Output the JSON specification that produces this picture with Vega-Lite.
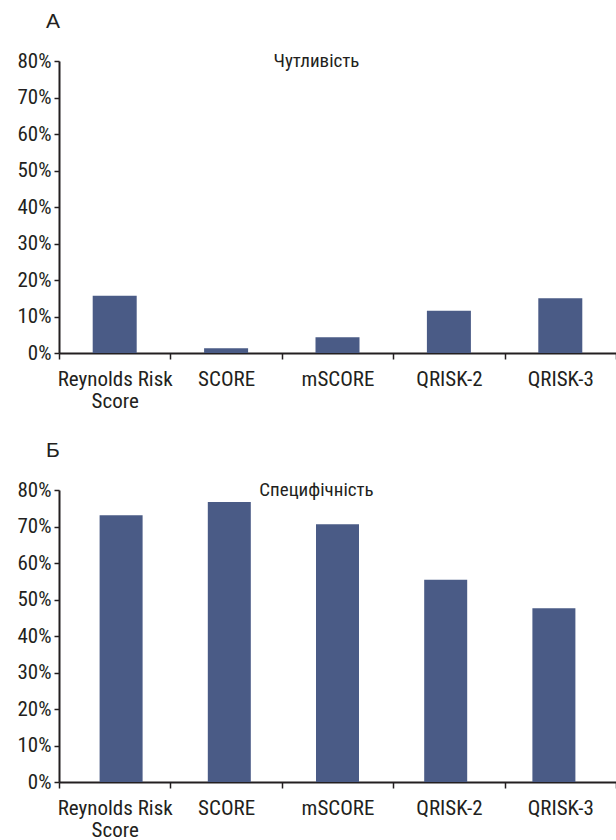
{
  "$schema": "https://vega.github.io/schema/vega-lite/v6.json",
  "background": "white",
  "padding": {"left": 16, "right": 0, "top": 11, "bottom": 0},
  "spacing": 29,
  "config": {
    "view": {"stroke": null},
    "font": "Liberation Sans Narrow, Roboto Condensed, DejaVu Sans Condensed, sans-serif",
    "axis": {
      "domainColor": "#231f20",
      "domainWidth": 2,
      "tickColor": "#231f20",
      "tickWidth": 1.5,
      "labelColor": "#231f20",
      "labelFont": "Liberation Sans Narrow, Roboto Condensed, DejaVu Sans Condensed, sans-serif",
      "labelFontSize": 21,
      "labelOverlap": false,
      "grid": false,
      "title": null
    },
    "title": {
      "font": "Liberation Sans, Arial, sans-serif",
      "fontSize": 21,
      "fontWeight": "normal",
      "color": "#231f20",
      "anchor": "start",
      "frame": "group"
    }
  },
  "datasets": {
    "sens": [
      {"model": "Reynolds Risk Score", "value": 0.157},
      {"model": "SCORE", "value": 0.013},
      {"model": "mSCORE", "value": 0.043},
      {"model": "QRISK-2", "value": 0.116},
      {"model": "QRISK-3", "value": 0.150}
    ],
    "spec": [
      {"model": "Reynolds Risk Score", "value": 0.731},
      {"model": "SCORE", "value": 0.767},
      {"model": "mSCORE", "value": 0.706},
      {"model": "QRISK-2", "value": 0.554},
      {"model": "QRISK-3", "value": 0.476}
    ]
  },
  "vconcat": [
    {
      "width": 557,
      "height": 292,
      "title": {"text": "А", "dx": -13, "offset": 18},
      "data": {"name": "sens"},
      "layer": [
        {
          "mark": {"type": "bar", "size": 44, "color": "#4a5b86"},
          "encoding": {
            "x": {
              "field": "model", "type": "nominal", "sort": null,
              "scale": {"paddingInner": 0, "paddingOuter": 0},
              "axis": {
                "labelAngle": 0, "tickBand": "extent", "tickSize": 6,
                "labelPadding": 9, "labelBaseline": "top", "labelLineHeight": 22,
                "labelOverlap": false,
                "labelExpr": "datum.value == 'Reynolds Risk Score' ? ['Reynolds Risk', 'Score'] : datum.value"
              }
            },
            "y": {
              "field": "value", "type": "quantitative",
              "scale": {"domain": [0, 0.8], "nice": false},
              "axis": {"values": [0, 0.1, 0.2, 0.3, 0.4, 0.5, 0.6, 0.7, 0.8], "labelOverlap": false, "format": ".0%", "tickSize": 5, "labelPadding": 3}
            }
          }
        },
        {
          "data": {"values": [{"t": "Чутливість"}]},
          "mark": {"type": "text", "fontSize": 19, "baseline": "middle", "align": "center", "dx": -21, "color": "#231f20"},
          "encoding": {
            "x": {"datum": "mSCORE", "type": "nominal"},
            "y": {
              "datum": 0.8, "type": "quantitative",
              "axis": {"values": [0, 0.1, 0.2, 0.3, 0.4, 0.5, 0.6, 0.7, 0.8], "labelOverlap": false, "format": ".0%", "tickSize": 5, "labelPadding": 3}
            },
            "text": {"field": "t"}
          }
        }
      ]
    },
    {
      "width": 557,
      "height": 292,
      "title": {"text": "Б", "dx": -13, "offset": 18},
      "data": {"name": "spec"},
      "resolve": {"scale": {"x": "independent"}, "axis": {"x": "independent"}},
      "layer": [
        {
          "mark": {"type": "bar", "size": 43, "color": "#4a5b86"},
          "encoding": {
            "x": {
              "field": "model", "type": "nominal", "sort": null,
              "scale": {"paddingInner": 0, "paddingOuter": 0.074},
              "axis": null
            },
            "y": {
              "field": "value", "type": "quantitative",
              "scale": {"domain": [0, 0.8], "nice": false},
              "axis": {"values": [0, 0.1, 0.2, 0.3, 0.4, 0.5, 0.6, 0.7, 0.8], "labelOverlap": false, "format": ".0%", "tickSize": 5, "labelPadding": 3}
            }
          }
        },
        {
          "layer": [
            {
              "mark": {"type": "bar", "opacity": 0},
              "encoding": {
                "x": {
                  "field": "model", "type": "nominal", "sort": null,
                  "scale": {"paddingInner": 0, "paddingOuter": 0},
                  "axis": {
                    "labelAngle": 0, "tickBand": "extent", "tickSize": 6,
                    "labelPadding": 9, "labelBaseline": "top", "labelLineHeight": 22,
                    "labelOverlap": false,
                    "labelExpr": "datum.value == 'Reynolds Risk Score' ? ['Reynolds Risk', 'Score'] : datum.value"
                  }
                },
                "y": {
                  "field": "value", "type": "quantitative",
                  "axis": {"values": [0, 0.1, 0.2, 0.3, 0.4, 0.5, 0.6, 0.7, 0.8], "labelOverlap": false, "format": ".0%", "tickSize": 5, "labelPadding": 3}
                }
              }
            },
            {
              "data": {"values": [{"t": "Специфічність"}]},
              "mark": {"type": "text", "fontSize": 19, "baseline": "middle", "align": "center", "dx": -21, "color": "#231f20"},
              "encoding": {
                "x": {"datum": "mSCORE", "type": "nominal"},
                "y": {
                  "datum": 0.8, "type": "quantitative",
                  "axis": {"values": [0, 0.1, 0.2, 0.3, 0.4, 0.5, 0.6, 0.7, 0.8], "labelOverlap": false, "format": ".0%", "tickSize": 5, "labelPadding": 3}
                },
                "text": {"field": "t"}
              }
            }
          ]
        }
      ]
    }
  ]
}
